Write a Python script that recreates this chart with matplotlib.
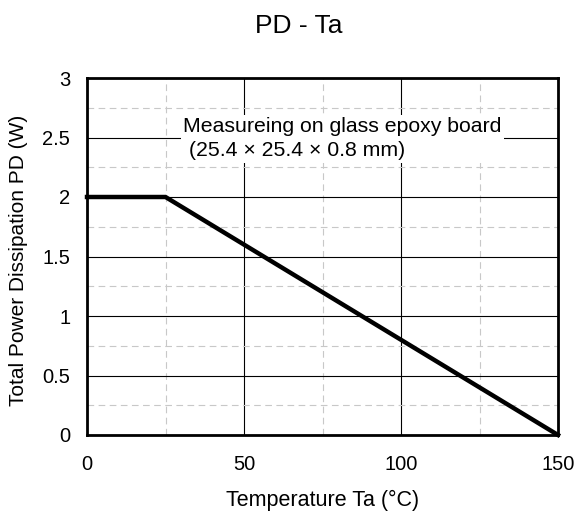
import matplotlib
matplotlib.use('Agg')
import matplotlib.pyplot as plt
from matplotlib.ticker import MultipleLocator

plt.rcParams['font.family'] = ['Liberation Sans', 'DejaVu Sans']

temp = [0, 25, 150]
power = [2.0, 2.0, 0.0]
x_ticks = [0, 50, 100, 150]
y_ticks = [0, 0.5, 1, 1.5, 2, 2.5, 3]
y_tick_labels = ['0', '0.5', '1', '1.5', '2', '2.5', '3']
note = 'Measureing on glass epoxy board\n (25.4 \u00d7 25.4 \u00d7 0.8 mm)'

fig = plt.figure(figsize=(5.79, 5.15), dpi=100)
ax = fig.add_axes([87 / 579, 80 / 515, 471 / 579, 357 / 515])

ax.plot(temp, power, c='black', lw=3.2, solid_joinstyle='miter', zorder=5, clip_on=False)

ax.set_xlim(0, 150)
ax.set_ylim(0, 3)
ax.set_xticks(x_ticks)
ax.set_yticks(y_ticks)
ax.set_yticklabels(y_tick_labels)
ax.xaxis.set_minor_locator(MultipleLocator(25))
ax.yaxis.set_minor_locator(MultipleLocator(0.25))
ax.grid(which='major', color='black', lw=0.8, ls='-')
ax.grid(which='minor', color='#c8c8c8', lw=0.8, ls=(0, (6, 4)))
ax.tick_params(which='both', length=0, labelsize=14.5)
ax.tick_params(axis='x', pad=14.5)
ax.tick_params(axis='y', pad=12)

for s in ax.spines.values():
    s.set_linewidth(2)

ax.text(30.7, 2.49, note, fontsize=15.3, ha='left', va='center', linespacing=1.36,
        bbox=dict(facecolor='white', edgecolor='none', pad=1.5), zorder=4)

fig.text(299 / 579, 1 - 33 / 515, 'PD - Ta', fontsize=19, ha='center', va='baseline')
ax.set_xlabel('Temperature Ta (\u00b0C)', fontsize=15.5, labelpad=11)
ax.set_ylabel('Total Power Dissipation PD (W)', fontsize=15)
ax.yaxis.set_label_coords(-0.125, 0.49)

fig.savefig('out.png', dpi=100)
